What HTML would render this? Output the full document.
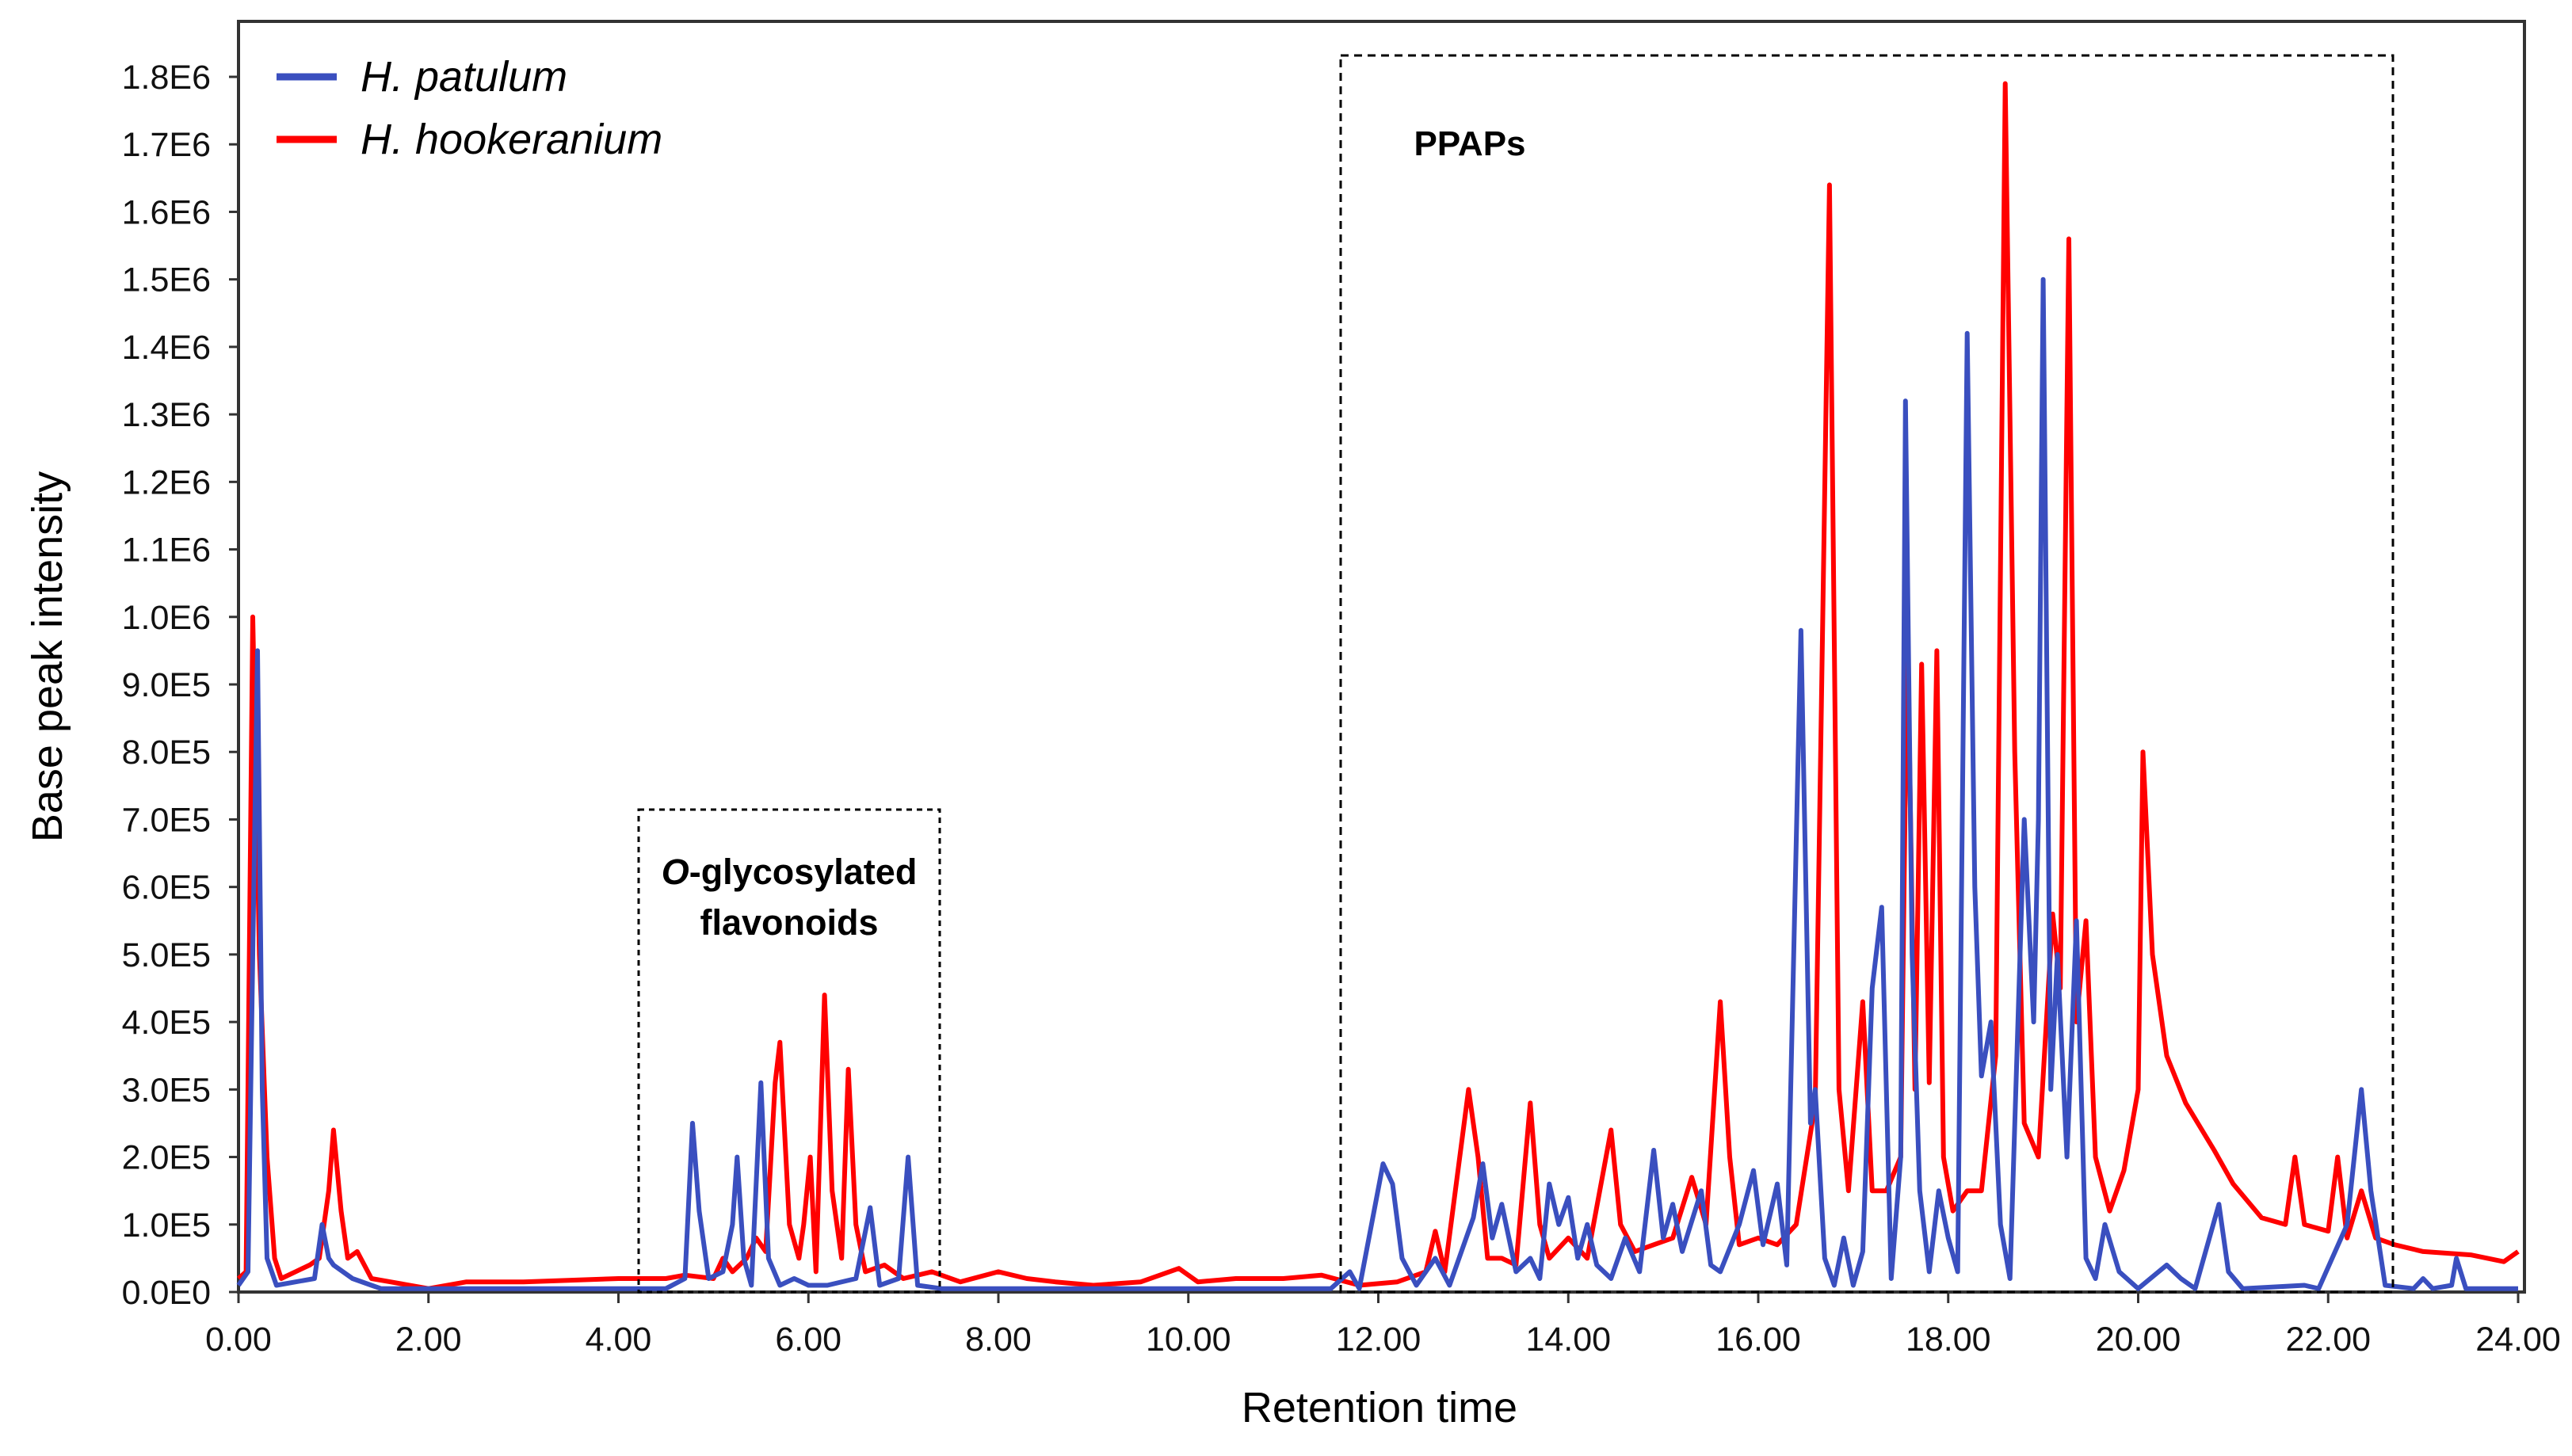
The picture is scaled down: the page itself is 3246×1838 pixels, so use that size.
<!DOCTYPE html>
<html><head><meta charset="utf-8"><style>
html,body{margin:0;padding:0;background:#fff;}
svg{display:block;font-family:"Liberation Sans",Arial,sans-serif;}
</style></head><body>
<svg id="chart" width="3246" height="1838" viewBox="0 0 3246 1838" xmlns="http://www.w3.org/2000/svg">
<g id="grid"></g>
<g id="series"></g>
<g id="annot"></g>
</svg>
<script>
const xTicks=[0,2,4,6,8,10,12,14,16,18,20,22,24];
const yTicks=[0,1,2,3,4,5,6,7,8,9,10,11,12,13,14,15,16,17,18];
const yTickLabels=["0.0E0","1.0E5","2.0E5","3.0E5","4.0E5","5.0E5","6.0E5","7.0E5","8.0E5","9.0E5","1.0E6","1.1E6","1.2E6","1.3E6","1.4E6","1.5E6","1.6E6","1.7E6","1.8E6"];
const patulumT=[0,0.1,0.15,0.2,0.25,0.3,0.4,0.8,0.88,0.95,1.0,1.2,1.4,1.5,4.5,4.7,4.78,4.85,4.95,5.1,5.2,5.25,5.32,5.4,5.5,5.58,5.7,5.85,6.0,6.2,6.5,6.65,6.75,6.95,7.05,7.15,7.4,11.5,11.7,11.8,12.05,12.15,12.25,12.4,12.6,12.75,13.0,13.1,13.2,13.3,13.45,13.6,13.7,13.8,13.9,14.0,14.1,14.2,14.3,14.45,14.6,14.75,14.9,15.0,15.1,15.2,15.4,15.5,15.6,15.8,15.95,16.05,16.2,16.3,16.45,16.55,16.6,16.7,16.8,16.9,17.0,17.1,17.2,17.3,17.4,17.5,17.55,17.62,17.7,17.8,17.9,18.0,18.1,18.2,18.28,18.35,18.45,18.55,18.65,18.8,18.9,18.95,19.0,19.08,19.15,19.25,19.35,19.45,19.55,19.65,19.8,20.0,20.3,20.45,20.6,20.85,20.95,21.1,21.75,21.9,22.2,22.35,22.45,22.6,22.9,23.0,23.1,23.3,23.35,23.45,24.0];
const patulumV=[0.1,0.3,5.0,9.5,3.0,0.5,0.1,0.2,1.0,0.5,0.4,0.2,0.1,0.05,0.05,0.2,2.5,1.2,0.2,0.3,1.0,2.0,0.5,0.1,3.1,0.5,0.1,0.2,0.1,0.1,0.2,1.25,0.1,0.2,2.0,0.1,0.05,0.05,0.3,0.05,1.9,1.6,0.5,0.1,0.5,0.1,1.1,1.9,0.8,1.3,0.3,0.5,0.2,1.6,1.0,1.4,0.5,1.0,0.4,0.2,0.8,0.3,2.1,0.8,1.3,0.6,1.5,0.4,0.3,1.0,1.8,0.7,1.6,0.4,9.8,2.5,3.0,0.5,0.1,0.8,0.1,0.6,4.5,5.7,0.2,2.0,13.2,5.0,1.5,0.3,1.5,0.8,0.3,14.2,6.0,3.2,4.0,1.0,0.2,7.0,4.0,7.0,15.0,3.0,5.0,2.0,5.5,0.5,0.2,1.0,0.3,0.05,0.4,0.2,0.05,1.3,0.3,0.05,0.1,0.05,1.0,3.0,1.5,0.1,0.05,0.2,0.05,0.1,0.5,0.05,0.05];
const hookT=[0,0.08,0.15,0.22,0.3,0.38,0.45,0.6,0.75,0.85,0.95,1.0,1.08,1.15,1.25,1.4,1.6,2.0,2.4,3,4,4.5,4.7,5.0,5.1,5.2,5.35,5.45,5.55,5.65,5.7,5.8,5.9,5.95,6.02,6.08,6.17,6.25,6.35,6.42,6.5,6.6,6.8,7.0,7.3,7.6,8.0,8.3,8.6,9.0,9.5,9.9,10.1,10.5,11.0,11.4,11.8,12.2,12.5,12.6,12.7,12.95,13.05,13.15,13.3,13.45,13.6,13.7,13.8,14.0,14.2,14.45,14.55,14.7,14.9,15.1,15.3,15.45,15.6,15.7,15.8,16.0,16.2,16.4,16.6,16.75,16.85,16.95,17.1,17.2,17.35,17.5,17.57,17.65,17.72,17.8,17.88,17.95,18.05,18.2,18.35,18.5,18.6,18.7,18.8,18.95,19.1,19.18,19.27,19.35,19.45,19.55,19.7,19.85,20.0,20.05,20.15,20.3,20.5,20.8,21.0,21.3,21.55,21.65,21.75,22.0,22.1,22.2,22.35,22.5,22.7,23.0,23.5,23.85,24.0];
const hookV=[0.2,0.3,10.0,5.0,2.0,0.5,0.2,0.3,0.4,0.5,1.5,2.4,1.2,0.5,0.6,0.2,0.15,0.05,0.15,0.15,0.2,0.2,0.25,0.2,0.5,0.3,0.5,0.8,0.6,3.1,3.7,1.0,0.5,1.0,2.0,0.3,4.4,1.5,0.5,3.3,1.0,0.3,0.4,0.2,0.3,0.15,0.3,0.2,0.15,0.1,0.15,0.35,0.15,0.2,0.2,0.25,0.1,0.15,0.3,0.9,0.3,3.0,2.0,0.5,0.5,0.4,2.8,1.0,0.5,0.8,0.5,2.4,1.0,0.6,0.7,0.8,1.7,1.0,4.3,2.0,0.7,0.8,0.7,1.0,2.8,16.4,3.0,1.5,4.3,1.5,1.5,2.0,9.9,3.0,9.3,3.1,9.5,2.0,1.2,1.5,1.5,3.5,17.9,8.0,2.5,2.0,5.6,4.5,15.6,4.0,5.5,2.0,1.2,1.8,3.0,8.0,5.0,3.5,2.8,2.1,1.6,1.1,1.0,2.0,1.0,0.9,2.0,0.8,1.5,0.8,0.7,0.6,0.55,0.45,0.6];

const L=301,R=3186,T=27,B=1631;
const X0=301,XW=(3178-301)/24;
function xs(t){return X0+t*XW;}
function ys(v){return B-v*(B-97)/18;}
const NS="http://www.w3.org/2000/svg";
function mk(tag,parent,attrs){const e=document.createElementNS(NS,tag);for(const k in attrs)e.setAttribute(k,attrs[k]);parent.appendChild(e);return e;}
const grid=document.getElementById('grid'),ser=document.getElementById('series'),ann=document.getElementById('annot');

yTicks.forEach((v,i)=>{
  const y=ys(v);
  const tk=mk('line',grid,{x1:L-12,x2:L,y1:y,y2:y,stroke:'#333','stroke-width':3});
  
  
  const tx=mk('text',grid,{x:266,y:y+15,'text-anchor':'end','font-size':43,fill:'#111'});
  tx.textContent=yTickLabels[i];
  
  
});
xTicks.forEach(t=>{
  const x=xs(t);
  const tk=mk('line',grid,{x1:x,x2:x,y1:B,y2:B+14,stroke:'#333','stroke-width':3});
  
  
  const tx=mk('text',grid,{x:x,y:1705,'text-anchor':'middle','font-size':43,fill:'#111'});
  tx.textContent=t.toFixed(2);
  
  
});
const frame=mk('rect',grid,{x:L,y:T,width:R-L,height:B-T,fill:'none',stroke:'#333','stroke-width':4});



function drawLine(ts,vs,color,name){
  const d=ts.map((t,i)=>(i?'L':'M')+xs(t).toFixed(1)+','+ys(vs[i]).toFixed(1)).join(' ');
  const p=mk('path',ser,{d:d,fill:'none',stroke:color,'stroke-width':6,'stroke-linejoin':'round'});
  
  
}
drawLine(hookT,hookV,'#ff0000','series-h-hookeranium');
drawLine(patulumT,patulumV,'#3a4fbf','series-h-patulum');

const b1=mk('rect',ann,{x:1692,y:70,width:1328,height:1561,fill:'none',stroke:'#000','stroke-width':3,'stroke-dasharray':'10,7'});


const b2=mk('rect',ann,{x:806,y:1022,width:380,height:609,fill:'none',stroke:'#000','stroke-width':3,'stroke-dasharray':'7,6'});


</script>
<svg style="position:absolute;left:0;top:0" width="3246" height="1838" xmlns="http://www.w3.org/2000/svg">
<text x="1855" y="196" text-anchor="middle" font-size="44" font-weight="bold" font-family="Liberation Sans,sans-serif">PPAPs</text>
<text x="996" y="1116" text-anchor="middle" font-size="45" font-weight="bold" font-family="Liberation Sans,sans-serif"><tspan font-style="italic">O</tspan>-glycosylated</text>
<text x="996" y="1180" text-anchor="middle" font-size="45" font-weight="bold" font-family="Liberation Sans,sans-serif">flavonoids</text>
<line x1="349" y1="97" x2="425" y2="97" stroke="#3a4fbf" stroke-width="9"/>
<text x="455" y="115" font-size="54" font-style="italic" font-family="Liberation Sans,sans-serif">H. patulum</text>
<line x1="349" y1="176" x2="425" y2="176" stroke="#ff0000" stroke-width="9"/>
<text x="455" y="194" font-size="54" font-style="italic" font-family="Liberation Sans,sans-serif">H. hookeranium</text>
<text x="1741" y="1795" text-anchor="middle" font-size="54" font-family="Liberation Sans,sans-serif">Retention time</text>
<text x="0" y="0" transform="translate(78,829) rotate(-90)" text-anchor="middle" font-size="54" font-family="Liberation Sans,sans-serif">Base peak intensity</text>
</svg>
</body></html>
